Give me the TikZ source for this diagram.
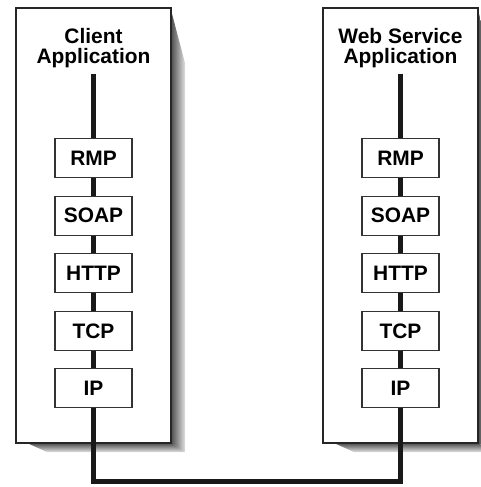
\documentclass[tikz,border=0pt]{standalone}
\usepackage{fontspec}
\setmainfont{Liberation Sans}

\begin{document}
\begin{tikzpicture}[x=1bp,y=-1bp,
  panel/.style={draw=black!85,line width=2.2bp,fill=white,minimum width=155bp,minimum height=435bp,inner sep=0pt},
  layer/.style={draw=black!80,line width=1.1bp,fill=white,minimum width=77bp,minimum height=39bp,inner sep=0pt,font=\fontsize{21}{22}\selectfont\bfseries},
  heading/.style={align=center,font=\fontsize{21}{20.5}\selectfont\bfseries,inner xsep=2bp,inner ysep=5.5bp},
  link/.style={line width=5bp,black!90,line join=miter}]

\useasboundingbox (0,0) rectangle (481,487);

% Shadows
\foreach \dx in {0,307}{
  \shade[left color=black!70,right color=black!12] (171+\dx,10) -- (185+\dx,63) -- (185+\dx,452) -- (171+\dx,443) -- cycle;
  \shade[top color=black!70,bottom color=black!12] (27+\dx,443) -- (171+\dx,443) -- (185+\dx,452) -- (47+\dx,452) -- cycle;
}

% Panels
\node[panel] (client) at (93.5,225.5) {};
\node[panel] (service) at (400.5,225.5) {};

% Titles
\node[heading] (ctitle) at (93.5,48) {Client\\Application};
\node[heading] (stitle) at (400.5,48) {Web Service\\Application};

% Protocol stacks
\foreach \name/\lbl [count=\i] in {rmp/RMP,soap/SOAP,http/HTTP,tcp/TCP,ip/IP}{
  \node[layer] (c\name) at (93.5,{158+57.6*(\i-1)}) {\lbl};
  \node[layer] (s\name) at (400.5,{158+57.6*(\i-1)}) {\lbl};
}

% Links
\foreach \a/\b in {title/rmp,rmp/soap,soap/http,http/tcp,tcp/ip}{
  \draw[link] (c\a) -- (c\b);
  \draw[link] (s\a) -- (s\b);
}
\coordinate (cbus) at (93.5,481);
\draw[link] (cip) -- (cbus) -| (sip);

\end{tikzpicture}
\end{document}
